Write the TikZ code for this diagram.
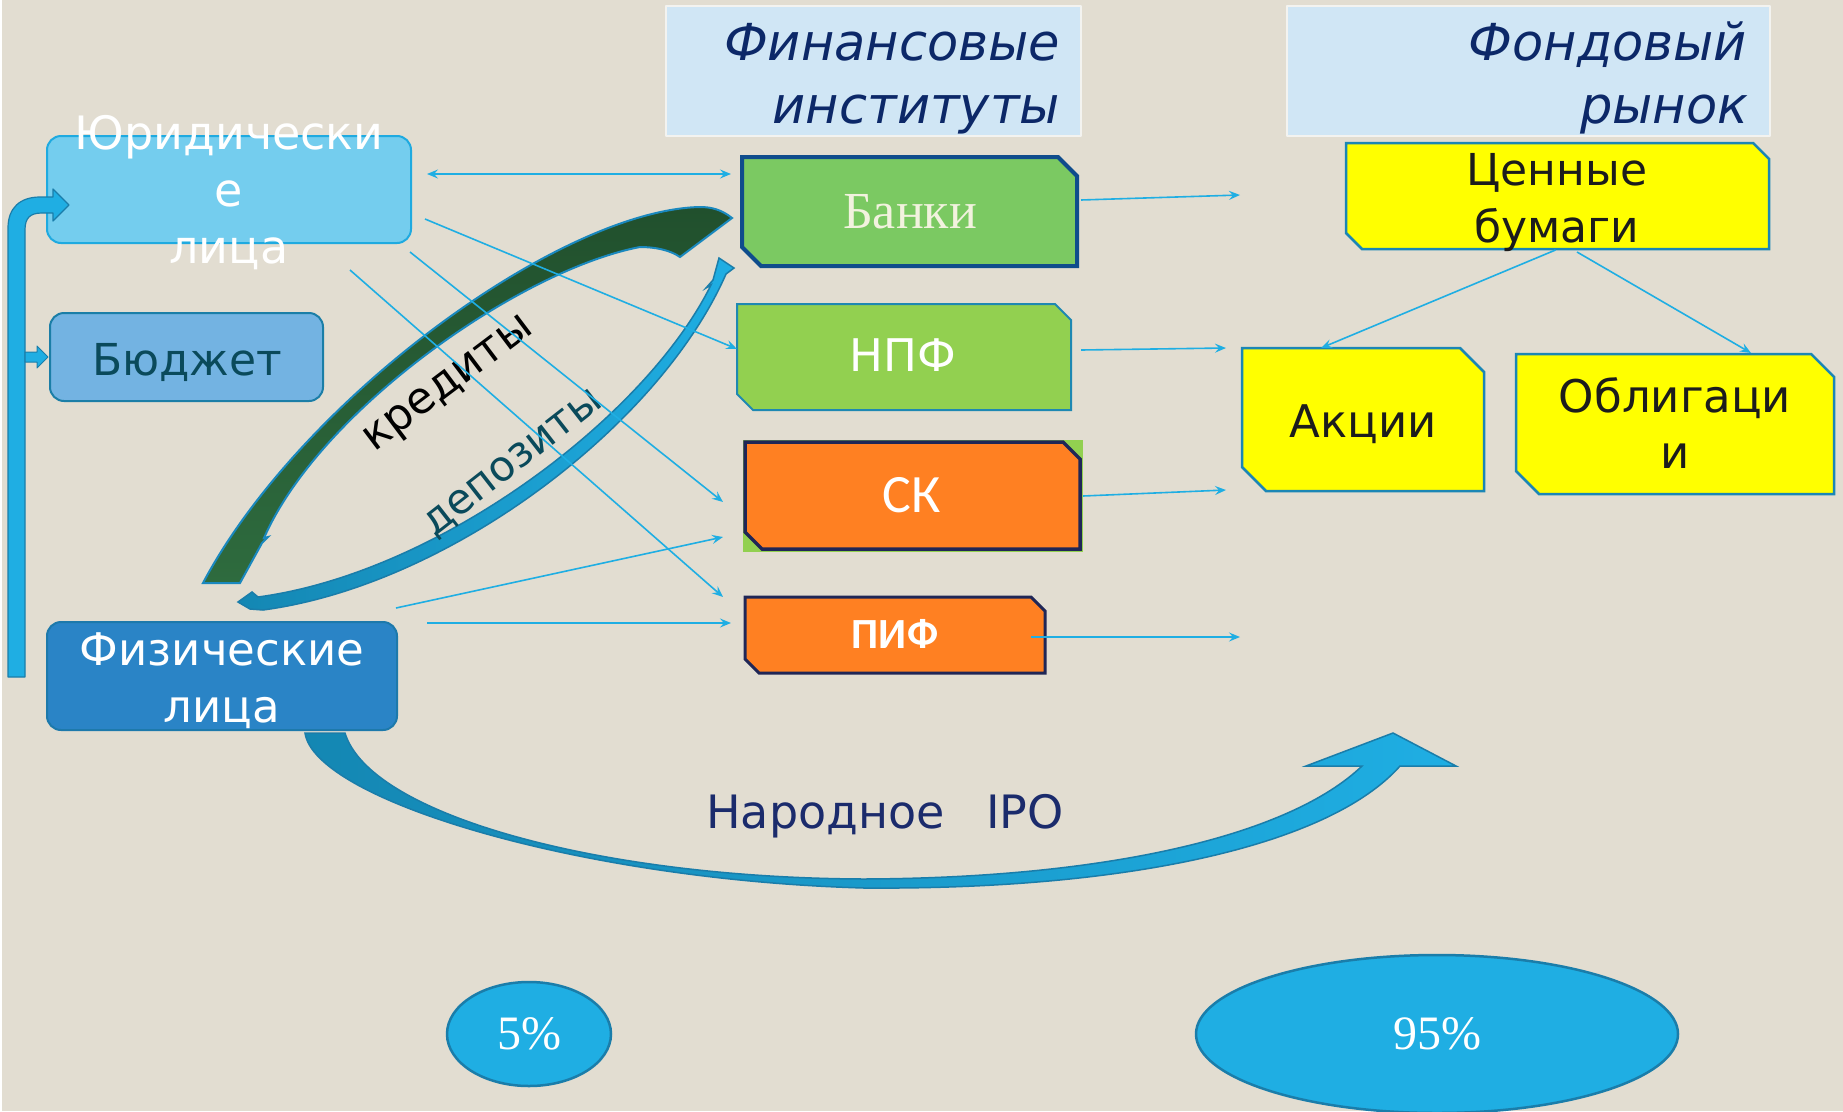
\documentclass[tikz,border=0pt]{standalone}
\usepackage{fontspec}
\setmainfont{DejaVu Sans}
\newfontfamily\serifF{Liberation Serif}
\newfontfamily\calF{Carlito}
\usetikzlibrary{arrows.meta,shapes.geometric}
\pgfdeclarelayer{back}
\pgfdeclarelayer{shapes}
\pgfsetlayers{back,shapes,main}
\definecolor{bgc}{HTML}{E2DDD1}
\definecolor{lineblue}{HTML}{1FAEE3}
\definecolor{jurfill}{HTML}{74CDEE}
\definecolor{jurdraw}{HTML}{1FAAE0}
\definecolor{budfill}{HTML}{73B3E2}
\definecolor{buddraw}{HTML}{1B7EA7}
\definecolor{fizfill}{HTML}{2A84C6}
\definecolor{fizdraw}{HTML}{1D79AB}
\definecolor{hdrfill}{HTML}{D0E6F5}
\definecolor{hdrdraw}{HTML}{F3F3F0}
\definecolor{bankfill}{HTML}{7BC962}
\definecolor{bankdraw}{HTML}{0F4C8C}
\definecolor{npffill}{HTML}{92D050}
\definecolor{npfdraw}{HTML}{1E88B2}
\definecolor{orangefill}{HTML}{FF8022}
\definecolor{orangedraw}{HTML}{1F2656}
\definecolor{yellowfill}{HTML}{FFFF00}
\definecolor{yellowdraw}{HTML}{1B86B5}
\definecolor{credtop}{HTML}{21502D}
\definecolor{credbot}{HTML}{2E6B3E}
\definecolor{creddraw}{HTML}{1A88BE}
\definecolor{depdark}{HTML}{1487B3}
\definecolor{deplight}{HTML}{1FAEE3}
\definecolor{depdraw}{HTML}{1A7DAA}
\definecolor{budtext}{HTML}{0A4A5B}
\definecolor{navy}{HTML}{0C2868}
\definecolor{ipotext}{HTML}{1B2B6C}
\definecolor{banktext}{HTML}{F2F2DE}
\definecolor{darktext}{HTML}{1C1C1C}
\newcommand\fsz[1]{\fontsize{#1}{#1}\selectfont}
\newcommand\snipbox[3]{\begin{pgfonlayer}{shapes}\draw[#3] (#1.north west) -- ([xshift=-#2pt]#1.north east) -- ([yshift=-#2pt]#1.north east) -- (#1.south east) -- ([xshift=#2pt]#1.south west) -- ([yshift=#2pt]#1.south west) -- cycle;\end{pgfonlayer}}
\begin{document}
\begin{tikzpicture}[x=1pt,y=-1pt,line join=round,
  box/.style={rectangle, inner sep=0pt, outer sep=0pt},
  rbox/.style={box, rounded corners=14pt, line width=2pt},
  hbox/.style={box, fill=hdrfill, draw=hdrdraw, line width=2pt},
  lbl/.style={anchor=base, inner sep=0pt, outer sep=0pt},
  hdr/.style={lbl, anchor=base east, text=navy, font={\fsz{51}\itshape}},
  conn/.style={draw=lineblue, line width=1.6pt, -{Stealth[length=11pt,width=9pt,inset=4pt]}},
  conn2/.style={draw=lineblue, line width=1.6pt, {Stealth[length=11pt,width=9pt,inset=4pt]}-{Stealth[length=11pt,width=9pt,inset=4pt]}},
  yel/.style={fill=yellowfill, draw=yellowdraw, line width=2.5pt},
  pct/.style={ellipse, inner sep=0pt, fill=lineblue, draw=depdraw, line width=2.5pt, text=white, font={\serifF\fsz{48}}}
]
\useasboundingbox (0,0) rectangle (1843,1111);
\begin{pgfonlayer}{back}
\fill[bgc] (0,0) rectangle (1843,1111);
\fill[white] (0,0) rectangle (2,1111);
\end{pgfonlayer}

% headers
\node[hbox, minimum width=415pt, minimum height=130pt] (hdr1) at (873.5,71) {};
\node[hbox, minimum width=483pt, minimum height=130pt] (hdr2) at (1528.5,71) {};

% rounded boxes
\node[rbox, minimum width=364pt, minimum height=107pt, fill=jurfill, draw=jurdraw] (jur) at (229,189.5) {};
\node[rbox, minimum width=273pt, minimum height=88pt, fill=budfill, draw=buddraw] (bud) at (186.5,357) {};
\node[rbox, minimum width=350pt, minimum height=108pt, fill=fizfill, draw=fizdraw] (fiz) at (222,676) {};

% snipped boxes
\node[box, minimum width=335pt, minimum height=109pt] (bank) at (909.5,211.5) {};
\node[box, minimum width=334pt, minimum height=106pt] (npf) at (904,357) {};
\node[box, minimum width=335pt, minimum height=107pt] (sk) at (912.5,495.5) {};
\node[box, minimum width=300pt, minimum height=76pt] (pif) at (895,635) {};
\node[box, minimum width=423pt, minimum height=106pt] (cb) at (1557.5,196) {};
\node[box, minimum width=242pt, minimum height=143pt] (akc) at (1363,419.5) {};
\node[box, minimum width=318pt, minimum height=140pt] (obl) at (1675,424) {};

\begin{pgfonlayer}{shapes}
\fill[npffill] ([shift={(-2,-2)}]sk.north west) rectangle ([shift={(3,3)}]sk.south east);
\end{pgfonlayer}
\snipbox{bank}{19}{fill=bankfill, draw=bankdraw, line width=4pt}
\snipbox{npf}{16}{fill=npffill, draw=npfdraw, line width=2pt}
\snipbox{sk}{17}{fill=orangefill, draw=orangedraw, line width=3.5pt}
\snipbox{pif}{14}{fill=orangefill, draw=orangedraw, line width=3pt}
\snipbox{cb}{16}{yel}
\snipbox{akc}{24}{yel}
\snipbox{obl}{23}{yel}

% big curved arrows
\begin{pgfonlayer}{shapes}
\draw[draw=creddraw, line width=2pt, top color=credtop, bottom color=credbot]
  (732,218) .. controls (722,210) and (712,207) .. (700,207)
  .. controls (560,210) and (300,400) .. (203,583)
  -- (240,583) -- (262,543) -- (268,537) -- (264,538)
  .. controls (320,410) and (520,270) .. (640,247)
  .. controls (655,247) and (670,250) .. (680,257) -- cycle;
\draw[draw=depdraw, line width=1.5pt, left color=depdark, right color=deplight]
  (263,610) .. controls (450,585) and (660,425) .. (726,274)
  -- (734,268) -- (719,258) -- (713,280) -- (706,288) -- (711,285)
  .. controls (645,418) and (438,573) .. (258,597)
  -- (252,592) -- (238,602) -- (250,609) -- cycle;
\draw[draw=depdraw, line width=1.5pt, left color=depdark, right color=deplight]
  (305,733) .. controls (315,800) and (580,880) .. (864,888)
  .. controls (1130,890) and (1330,845) .. (1400,766)
  -- (1456,766) -- (1393,733) -- (1306,766) -- (1362,766)
  .. controls (1290,835) and (1110,878) .. (864,879)
  .. controls (600,878) and (370,815) .. (345,733) -- cycle;
\end{pgfonlayer}

% left bar arrows
\draw[draw=depdraw, fill=lineblue, line width=1.2pt]
  (8,677) -- (8,228) .. controls (8,208) and (20,197) .. (40,197) -- (53,197) -- (53,189)
  -- (69,205) -- (53,221) -- (53,213) -- (42,213) .. controls (30,213) and (25,218) .. (25,230)
  -- (25,677) -- cycle;
\draw[draw=depdraw, fill=lineblue, line width=1pt]
  (25,352) -- (37,352) -- (37,346) -- (48,357) -- (37,368) -- (37,362) -- (25,362) -- cycle;

% ellipses
\node[pct, minimum width=164pt, minimum height=104pt] (p5) at (529,1034) {5\%};
\node[pct, minimum width=482pt, minimum height=158pt] (p95) at (1437,1034) {95\%};

% labels
\node[lbl, text=white, font=\fsz{46}] (jur1) at (229,149) {Юридически};
\node[lbl, text=white, font=\fsz{46}] (jur2) at (229,206) {е};
\node[lbl, text=white, font=\fsz{46}] (jur3) at (229,263) {лица};
\node[lbl, text=budtext, font=\fsz{44}] (budt) at (187,375) {Бюджет};
\node[lbl, text=white, font=\fsz{45}] (fiz1) at (222,665) {Физические};
\node[lbl, text=white, font=\fsz{45}] (fiz2) at (222,722) {лица};
\node[hdr] (h1a) at (1060,60) {Финансовые};
\node[hdr] (h1b) at (1060,123) {институты};
\node[hdr] (h2a) at (1747,60) {Фондовый};
\node[hdr] (h2b) at (1748,123) {рынок};
\node[lbl, text=banktext, font={\serifF\fsz{52}}] (bankt) at (910,228) {Банки};
\node[lbl, text=white, font=\fsz{45}] (npft) at (903,371) {НПФ};
\node[lbl, text=white, font={\calF\fsz{54}}] (skt) at (912,512) {СК};
\node[lbl, text=white, font={\calF\bfseries\fsz{43}}] (pift) at (895,648) {ПИФ};
\node[lbl, text=darktext, font=\fsz{44}] (cb1) at (1557,185) {Ценные};
\node[lbl, text=darktext, font=\fsz{44}] (cb2) at (1557,242) {бумаги};
\node[lbl, text=darktext, font=\fsz{45}] (akct) at (1363,437) {Акции};
\node[lbl, text=darktext, font=\fsz{45}] (obl1) at (1675,412) {Облигаци};
\node[lbl, text=darktext, font=\fsz{45}] (obl2) at (1675,468) {и};
\node[lbl, text=ipotext, font=\fsz{46}] (ipot) at (885,828) {Народное\hspace{0.9em}IPO};
\node[rotate=37, inner sep=0pt, text=black, font=\fsz{44}] (kred) at (450,386) {кредиты};
\node[rotate=38, inner sep=0pt, text=budtext, font=\fsz{42}] (depo) at (514,464) {депозиты};

% connectors
\coordinate (m1) at (1240,195);
\coordinate (m2) at (1226,348);
\coordinate (m3) at (1226,490);
\coordinate (m4) at (1240,637);
\draw[conn2] ([shift={(16,-15.5)}]jur.east) -- ([shift={(-11,-37.5)}]bank.west);
\draw[conn] ([shift={(14,29.5)}]jur.east) -- ([shift={(0,-8)}]npf.west);
\draw[conn] ([shift={(-1,9)}]jur.south east) -- ([shift={(-22,6.5)}]sk.west);
\draw[conn] ([shift={(-61,27)}]jur.south east) -- ([shift={(-22,0)}]pif.north west);
\draw[conn] ([shift={(-1,-14)}]fiz.north east) -- ([shift={(-22,-12)}]sk.south west);
\draw[conn] ([shift={(30,1)}]fiz.north east) -- ([shift={(-14,-12)}]pif.west);
\draw[conn] ([shift={(4,-11.5)}]bank.east) -- (m1);
\draw[conn] ([shift={(10,-7)}]npf.east) -- (m2);
\draw[conn] ([shift={(3,0.5)}]sk.east) -- (m3);
\draw[conn] ([shift={(-14,2)}]pif.east) -- (m4);
\draw[conn] ([shift={(-2,1)}]cb.south) -- ([shift={(-42,0)}]akc.north);
\draw[conn] ([shift={(19.5,3)}]cb.south) -- ([shift={(76,-1)}]obl.north);
\end{tikzpicture}
\end{document}
